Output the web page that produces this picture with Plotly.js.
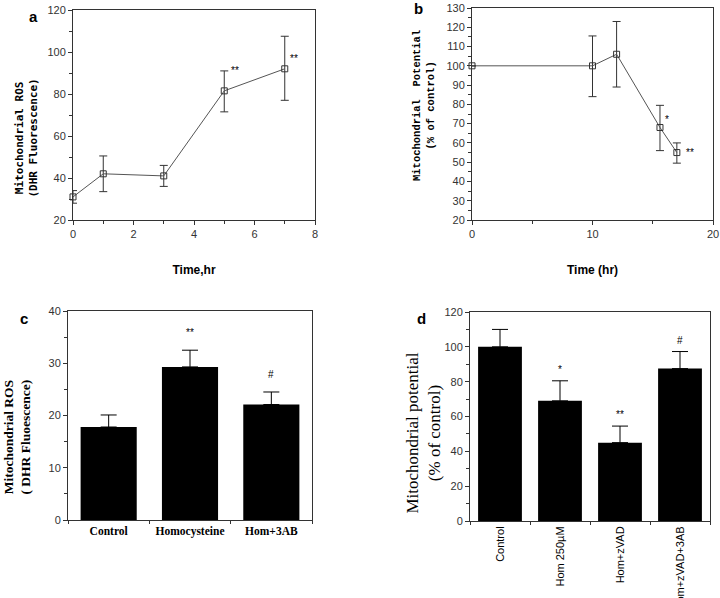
<!DOCTYPE html>
<html>
<head>
<meta charset="utf-8">
<script src="https://cdn.plot.ly/plotly-3.0.1.min.js"></script>
<style>html,body{margin:0;padding:0;background:#fff;}#chart{width:720px;height:598px;}</style>
</head>
<body>
<div id="chart"></div>
<script>
// Panel a: mitochondrial ROS over time
const aTime = [0, 1, 3, 5, 7];
const aROS = [31, 42, 41, 81.5, 92];
const aErrUp = [3, 8.5, 5, 9.5, 15.5];
const aErrDown = [3, 8.5, 5, 10, 15];
const aSigX = [5.35, 7.3];
const aSigY = [91, 97];
const aSig = ['**', '**'];

// Panel b: mitochondrial potential over time
const bTime = [0, 10, 12, 15.6, 17];
const bPot = [100, 100, 106, 68, 55];
const bErrUp = [0, 15.5, 17, 11.5, 5];
const bErrDown = [0, 16, 17, 12, 5.5];
const bSigX = [16.2, 18.1];
const bSigY = [72, 55];
const bSig = ['*', '**'];

// Panel c: ROS bars
const cCats = ['Control', 'Homocysteine', 'Hom+3AB'];
const cVals = [17.8, 29.3, 22.1];
const cErr = [2.3, 3.2, 2.4];
const cSig = ['', '**', '#'];

// Panel d: potential bars
const dCats = ['Control', 'Hom 250µM', 'Hom+zVAD', 'Hom+zVAD+3AB'];
const dVals = [100, 69, 45, 87.5];
const dErr = [10, 11.5, 9.5, 9.8];
const dSig = ['', '*', '**', '#'];

// Y-axis titles (drawn as rotated text)
const yTitles = [
  {text: '<b>Mitochondrial ROS<br>(DHR Fluorescence)</b>', x: 25.5, y: 138, font: {family: 'DejaVu Sans Mono, monospace', size: 11, color: '#000'}},
  {text: '<b>Mitochondrial  Potential<br>(% of control)</b>', x: 424, y: 106, font: {family: 'Liberation Mono, Courier New, monospace', size: 10.5, color: '#000'}},
  {text: '<b>Mitochondrial ROS<br>( DHR Fluoescence)</b>', x: 16.5, y: 437, font: {family: 'Liberation Serif, Times New Roman, serif', size: 13.5, color: '#000'}},
  {text: 'Mitochondrial potential<br>(% of control)', x: 422.5, y: 433, font: {family: 'Liberation Serif, Times New Roman, serif', size: 17, color: '#000'}}
];

const tickFont = {family: 'Liberation Sans, Arial, sans-serif', size: 11, color: '#333'};

function baseAxis(extra) {
  return Object.assign({
    showline: true, mirror: true, linecolor: '#333', linewidth: 1,
    ticks: 'outside', ticklen: 4, tickcolor: '#333', tickwidth: 1,
    showgrid: false, zeroline: false, tickfont: tickFont, fixedrange: true
  }, extra);
}

const traces = [
  {
    type: 'scatter', mode: 'lines+markers', x: aTime, y: aROS, xaxis: 'x', yaxis: 'y',
    line: {color: '#555', width: 1},
    marker: {symbol: 'square-open', size: 6, color: '#333', line: {width: 1}},
    error_y: {type: 'data', symmetric: false, array: aErrUp, arrayminus: aErrDown, color: '#333', thickness: 1, width: 4},
    cliponaxis: false
  },
  {
    type: 'scatter', mode: 'lines+markers', x: bTime, y: bPot, xaxis: 'x2', yaxis: 'y2',
    line: {color: '#555', width: 1},
    marker: {symbol: 'square-open', size: 6, color: '#333', line: {width: 1}},
    error_y: {type: 'data', symmetric: false, array: bErrUp, arrayminus: bErrDown, color: '#333', thickness: 1, width: 4},
    cliponaxis: false
  },
  {
    type: 'bar', x: cCats, y: cVals, xaxis: 'x3', yaxis: 'y3', width: 0.69,
    marker: {color: '#000', line: {width: 0}},
    error_y: {type: 'data', symmetric: false, array: cErr, arrayminus: [0, 0, 0], color: '#000', thickness: 1, width: 8}
  },
  {
    type: 'bar', x: dCats, y: dVals, xaxis: 'x4', yaxis: 'y4', width: 0.73,
    marker: {color: '#000', line: {width: 0}},
    error_y: {type: 'data', symmetric: false, array: dErr, arrayminus: [0, 0, 0, 0], color: '#000', thickness: 1, width: 8}
  }
];

const annotations = [];
const letterFont = {family: 'Liberation Sans, Arial, sans-serif', size: 15, color: '#000', weight: 'bold'};
[['a', 33, 17], ['b', 418, 9], ['c', 24, 318], ['d', 421, 318]].forEach(function (l) {
  annotations.push({text: '<b>' + l[0] + '</b>', xref: 'paper', yref: 'paper', x: l[1] / 720, y: 1 - l[2] / 598,
    showarrow: false, font: letterFont, xanchor: 'center', yanchor: 'middle'});
});
yTitles.forEach(function (t) {
  annotations.push({text: t.text, xref: 'paper', yref: 'paper', x: t.x / 720, y: 1 - t.y / 598, textangle: -90,
    showarrow: false, font: t.font, xanchor: 'center', yanchor: 'middle'});
});
const sigFont = {family: 'Liberation Sans, Arial, sans-serif', size: 10, color: '#000'};
aSig.forEach(function (s, i) {
  annotations.push({text: s, xref: 'x', yref: 'y', x: aSigX[i], y: aSigY[i], showarrow: false, font: sigFont, xanchor: 'center', yanchor: 'middle'});
});
bSig.forEach(function (s, i) {
  annotations.push({text: s, xref: 'x2', yref: 'y2', x: bSigX[i], y: bSigY[i], showarrow: false, font: sigFont, xanchor: 'center', yanchor: 'middle'});
});
cSig.forEach(function (s, i) {
  if (s) annotations.push({text: s, xref: 'x3', yref: 'y3', x: cCats[i], y: cVals[i] + cErr[i] + 3.3, showarrow: false, font: sigFont, xanchor: 'center', yanchor: 'middle'});
});
dSig.forEach(function (s, i) {
  if (s) annotations.push({text: s, xref: 'x4', yref: 'y4', x: dCats[i], y: dVals[i] + dErr[i] + 6.5, showarrow: false, font: sigFont, xanchor: 'center', yanchor: 'middle'});
});

const layout = {
  width: 720, height: 598,
  margin: {l: 0, r: 0, t: 0, b: 0},
  paper_bgcolor: '#fff', plot_bgcolor: '#fff',
  showlegend: false,
  xaxis: baseAxis({
    domain: [73 / 720, 315 / 720], anchor: 'y', range: [0, 8], dtick: 2,
    minor: {dtick: 1, ticks: 'outside', ticklen: 3, tickcolor: '#333'},
    title: {text: '<b>Time,hr</b>', standoff: 26, font: {family: 'Liberation Sans, Arial, sans-serif', size: 12, color: '#000'}}
  }),
  yaxis: baseAxis({
    domain: [1 - 220 / 598, 1 - 10 / 598], anchor: 'x', range: [20, 120], dtick: 20,
    minor: {dtick: 10, ticks: 'outside', ticklen: 3, tickcolor: '#333'}
  }),
  xaxis2: baseAxis({
    domain: [472 / 720, 713 / 720], anchor: 'y2', range: [0, 20], dtick: 10,
    minor: {dtick: 5, ticks: 'outside', ticklen: 3, tickcolor: '#333'},
    title: {text: '<b>Time (hr)</b>', standoff: 26, font: {family: 'Liberation Sans, Arial, sans-serif', size: 12, color: '#000'}}
  }),
  yaxis2: baseAxis({
    domain: [1 - 220 / 598, 1 - 8 / 598], anchor: 'x2', range: [20, 130], dtick: 10,
    minor: {dtick: 5, ticks: 'outside', ticklen: 3, tickcolor: '#333'}
  }),
  xaxis3: baseAxis({
    domain: [68 / 720, 312 / 720], anchor: 'y3', range: [-0.5, 2.5], type: 'category',
    tickson: 'boundaries', ticklen: 3,
    tickfont: {family: 'Liberation Serif, Times New Roman, serif', size: 11.5, color: '#000', weight: 'bold'}
  }),
  yaxis3: baseAxis({
    domain: [1 - 520 / 598, 1 - 311 / 598], anchor: 'x3', range: [0, 40], dtick: 10,
    minor: {dtick: 5, ticks: 'outside', ticklen: 3, tickcolor: '#333'}
  }),
  xaxis4: baseAxis({
    domain: [470 / 720, 710 / 720], anchor: 'y4', range: [-0.5, 3.5], type: 'category',
    tickson: 'boundaries', ticklen: 3, tickangle: -90,
    tickfont: {family: 'Liberation Sans, Arial, sans-serif', size: 11, color: '#000'}
  }),
  yaxis4: baseAxis({
    domain: [1 - 521 / 598, 1 - 312 / 598], anchor: 'x4', range: [0, 120], dtick: 20,
    minor: {dtick: 10, ticks: 'outside', ticklen: 3, tickcolor: '#333'}
  }),
  annotations: annotations
};

Plotly.newPlot('chart', traces, layout, {staticPlot: true, displayModeBar: false});
</script>
</body>
</html>
